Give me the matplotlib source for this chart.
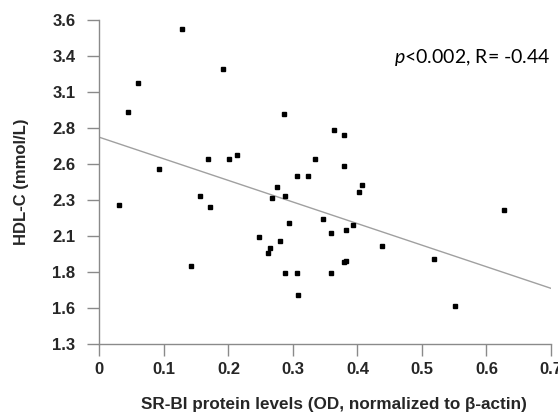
import numpy as np
import matplotlib
matplotlib.use("Agg")
import matplotlib.pyplot as plt

plt.rcParams["font.family"] = ["Liberation Sans", "DejaVu Sans"]
plt.rcParams["mathtext.fontset"] = "custom"
plt.rcParams["mathtext.it"] = "Lato:italic"
plt.rcParams["mathtext.rm"] = "Lato"

# SR-BI protein level (OD, normalized to beta-actin) per subject
sr_bi = [
    0.128, 0.192, 0.060, 0.045, 0.093, 0.169, 0.201, 0.213, 0.286, 0.364,
    0.379, 0.334, 0.379, 0.306, 0.323, 0.031, 0.156, 0.171, 0.142, 0.276,
    0.267, 0.288, 0.407, 0.402, 0.294, 0.347, 0.393, 0.382, 0.359, 0.247,
    0.280, 0.265, 0.261, 0.438, 0.379, 0.382, 0.288, 0.306, 0.359, 0.308,
    0.627, 0.519, 0.551,
]
# HDL-C (mmol/L) per subject
hdl_c = [
    3.534, 3.254, 3.151, 2.949, 2.540, 2.615, 2.615, 2.644, 2.935, 2.821,
    2.784, 2.615, 2.566, 2.490, 2.490, 2.285, 2.351, 2.273, 1.854, 2.415,
    2.336, 2.351, 2.427, 2.377, 2.159, 2.185, 2.147, 2.107, 2.086, 2.057,
    2.031, 1.979, 1.944, 1.994, 1.880, 1.889, 1.802, 1.802, 1.802, 1.648,
    2.249, 1.901, 1.572,
]
# regression line end points
trend_x = [0.0, 0.7]
trend_y = [2.767, 1.695]

x_ticks = [0, 0.1, 0.2, 0.3, 0.4, 0.5, 0.6, 0.7]
x_labels = ["0", "0.1", "0.2", "0.3", "0.4", "0.5", "0.6", "0.7"]
y_labels = ["1.3", "1.6", "1.8", "2.1", "2.3", "2.6", "2.8", "3.1", "3.4", "3.6"]
y_min, y_max = 1.3, 3.6

axis_grey = "#8a8a8a"
text_dark = "#262626"

fig = plt.figure(figsize=(5.58, 4.13), dpi=100, facecolor="white")
ax = fig.add_axes([0.178, 0.167, 0.8095, 0.785])

ax.plot(trend_x, trend_y, color="#a0a0a0", linewidth=1.0, zorder=1)
ax.plot(sr_bi, hdl_c, linestyle="none", marker="s", markersize=3.5,
        color="black", zorder=2)

ax.set_xlim(0, 0.7)
ax.set_ylim(y_min, y_max)
ax.set_xticks(x_ticks, x_labels)
ax.set_yticks(np.linspace(y_min, y_max, len(y_labels)), y_labels)

for side in ("top", "right"):
    ax.spines[side].set_visible(False)
for side in ("left", "bottom"):
    ax.spines[side].set_color(axis_grey)
    ax.spines[side].set_linewidth(1.0)

ax.tick_params(axis="both", direction="out", length=8.6, width=1.0,
               color=axis_grey, labelcolor=text_dark, labelsize=12)
ax.tick_params(axis="y", pad=8.5)
ax.tick_params(axis="x", pad=4.3)
for label in ax.get_xticklabels() + ax.get_yticklabels():
    label.set_fontweight("bold")

ax.set_xlabel("SR-BI protein levels (OD, normalized to \u03b2-actin)",
              fontsize=12.3, fontweight="bold", color=text_dark)
ax.xaxis.set_label_coords(0.52, -0.163)
ax.set_ylabel("HDL-C (mmol/L)", fontsize=12, fontweight="bold", color=text_dark)
ax.yaxis.set_label_coords(-0.155, 0.5)

ax.text(1.0, 0.885, r"$\it{p}$<0.002, R= -0.44", transform=ax.transAxes,
        ha="right", va="center", fontsize=14, family="Lato", color="black")

fig.savefig("out.png", dpi=100)
